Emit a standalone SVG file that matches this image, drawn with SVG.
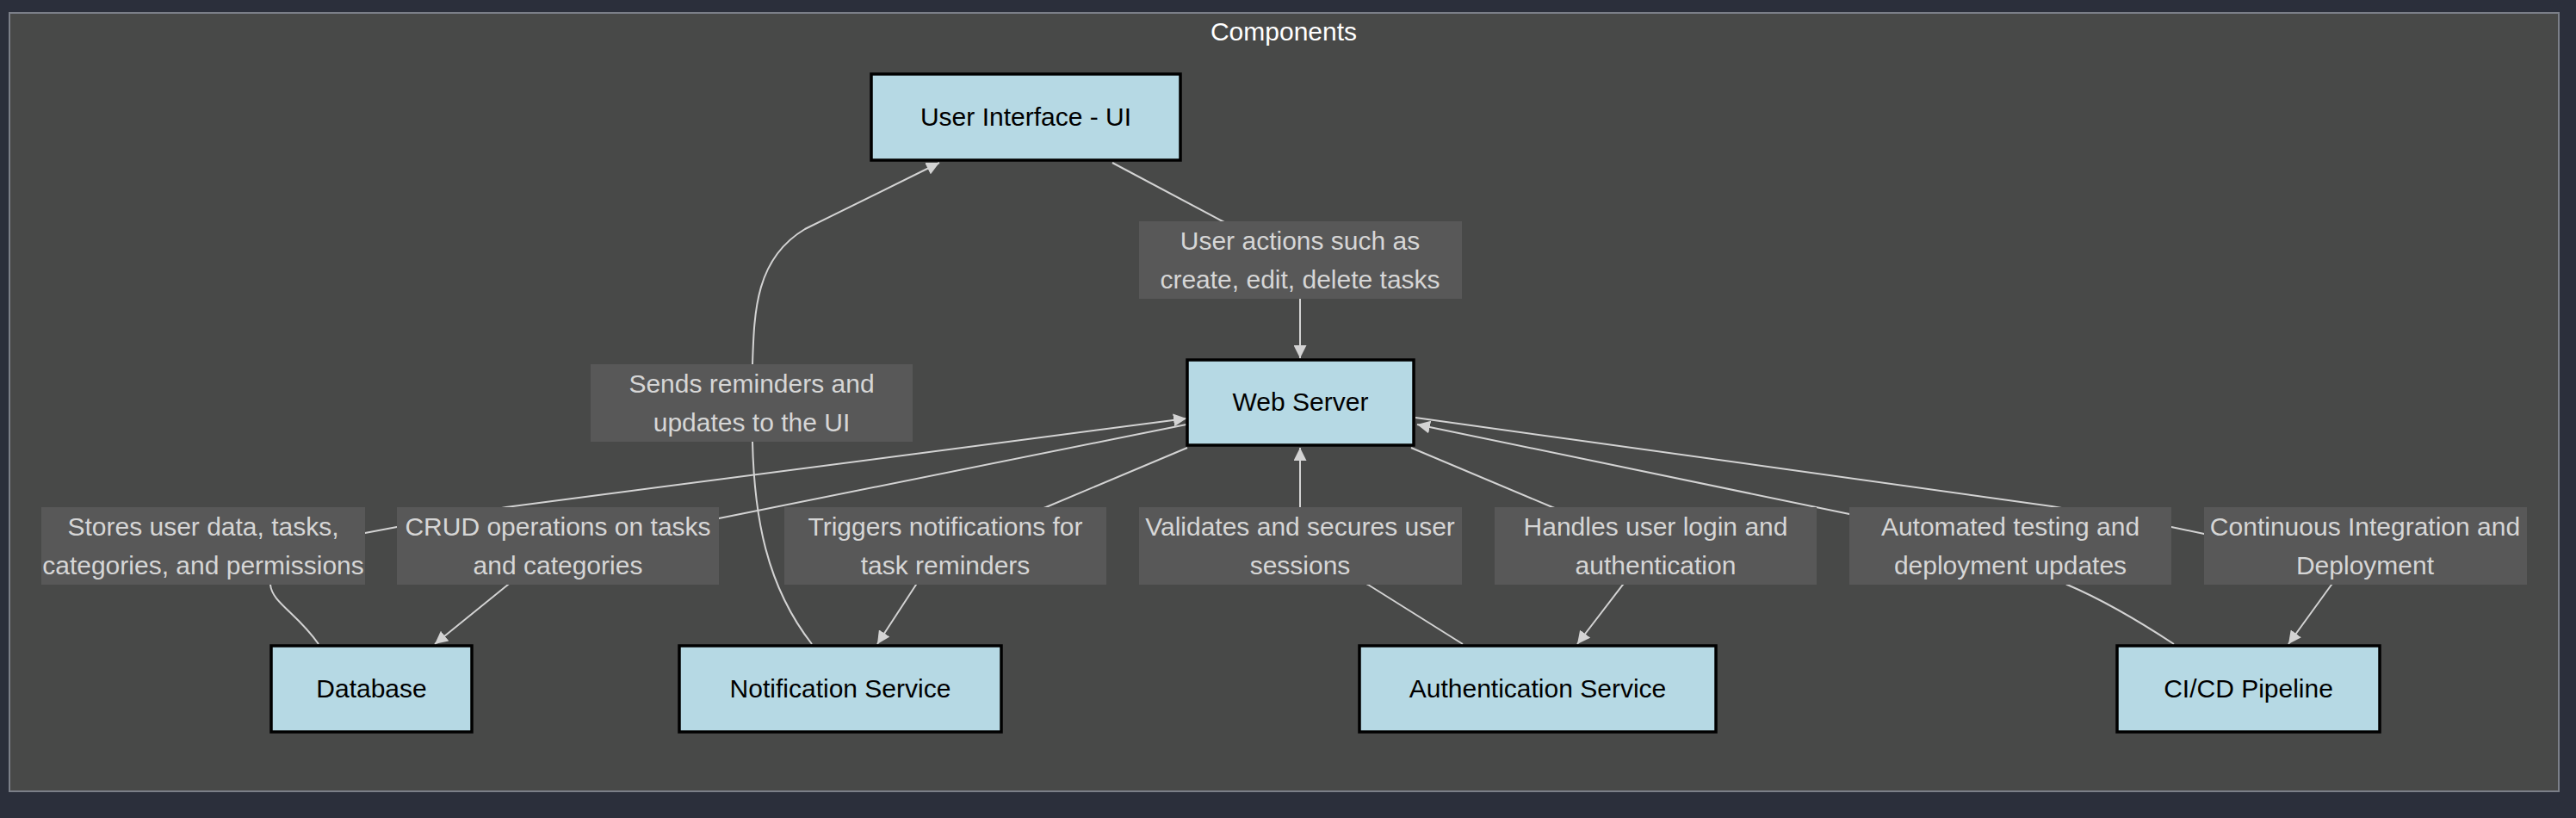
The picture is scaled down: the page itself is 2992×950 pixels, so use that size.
<svg xmlns="http://www.w3.org/2000/svg" width="2992" height="950" viewBox="0 0 2992 950">
<style>
.bg{fill:#2b2f3b}
.cluster{fill:#484948;stroke:#7b7f88;stroke-width:2}
.title{fill:#ffffff;font-family:"Liberation Sans",Arial,sans-serif;font-size:30px;text-anchor:middle}
.node rect{fill:#b6d9e4;stroke:#000000;stroke-width:3.5}
.node text{fill:#000000;font-family:"Liberation Sans",Arial,sans-serif;font-size:30px;text-anchor:middle}
.edge{fill:none;stroke:#d3d3d3;stroke-width:2}
.lbl rect{fill:#585858}
.lbl text{fill:#d6d6d6;font-family:"Liberation Sans",Arial,sans-serif;font-size:30px;text-anchor:middle}
</style>
<defs>
<marker id="arrow" viewBox="0 0 10 10" refX="10" refY="5" markerUnits="userSpaceOnUse" markerWidth="15" markerHeight="15" orient="auto">
<path d="M0,0 L10,5 L0,10 z" fill="#d3d3d3"/>
</marker>
</defs>
<rect class="bg" x="0" y="0" width="2992" height="950"/>
<g id="cluster-components">
<rect class="cluster" x="11" y="15" width="2961" height="904"/>
<text class="title" x="1491" y="47">Components</text>
</g>
<g id="connectors">
<path class="edge" d="M1292,189 L1420,257 Q1510,300 1510,347 L1510,416" marker-end="url(#arrow)"/>
<path class="edge" d="M370,748 C345,712 316,700 314,679 L340,630 L424,619 L461,612 L588,589 L1378,486" marker-end="url(#arrow)"/>
<path class="edge" d="M1378,493 L835,602 L648,634 L590,679 L505,748" marker-end="url(#arrow)"/>
<path class="edge" d="M1379,520 L1215,589 L1098,634 L1064,679 L1019,748" marker-end="url(#arrow)"/>
<path class="edge" d="M943,748 C890,680 876,600 874,513 L874,423 C876,360 878,300 935,266 L1091,189" marker-end="url(#arrow)"/>
<path class="edge" d="M1699,748 L1589,679 Q1510,640 1510,589 L1510,520" marker-end="url(#arrow)"/>
<path class="edge" d="M1639,520 L1803,589 L1923,634 L1885,679 L1832,748" marker-end="url(#arrow)"/>
<path class="edge" d="M2525,748 Q2455,702 2401,679 L2335,634 L2148,597 L1646,493" marker-end="url(#arrow)"/>
<path class="edge" d="M1644,485 L2383,588 L2522,612 L2560,620 L2747,634 L2708,679 L2658,748" marker-end="url(#arrow)"/>
</g>
<g id="edge-labels">
<g class="lbl" id="label-user-actions"><rect x="1323" y="257" width="375" height="90"/><text x="1510" y="290">User actions such as</text><text x="1510" y="335">create, edit, delete tasks</text></g>
<g class="lbl" id="label-sends"><rect x="686" y="423" width="374" height="90"/><text x="873" y="456">Sends reminders and</text><text x="873" y="501">updates to the UI</text></g>
<g class="lbl" id="label-stores"><rect x="48" y="589" width="376" height="90"/><text x="236" y="622">Stores user data, tasks,</text><text x="236" y="667">categories, and permissions</text></g>
<g class="lbl" id="label-crud"><rect x="461" y="589" width="374" height="90"/><text x="648" y="622">CRUD operations on tasks</text><text x="648" y="667">and categories</text></g>
<g class="lbl" id="label-triggers"><rect x="911" y="589" width="374" height="90"/><text x="1098" y="622">Triggers notifications for</text><text x="1098" y="667">task reminders</text></g>
<g class="lbl" id="label-validates"><rect x="1323" y="589" width="375" height="90"/><text x="1510" y="622">Validates and secures user</text><text x="1510" y="667">sessions</text></g>
<g class="lbl" id="label-handles"><rect x="1736" y="589" width="374" height="90"/><text x="1923" y="622">Handles user login and</text><text x="1923" y="667">authentication</text></g>
<g class="lbl" id="label-automated"><rect x="2148" y="589" width="374" height="90"/><text x="2335" y="622">Automated testing and</text><text x="2335" y="667">deployment updates</text></g>
<g class="lbl" id="label-continuous"><rect x="2560" y="589" width="375" height="90"/><text x="2747" y="622">Continuous Integration and</text><text x="2747" y="667">Deployment</text></g>
</g>
<g class="node" id="node-ui"><rect x="1012" y="86" width="359" height="100"/><text x="1191.5" y="146">User Interface - UI</text></g>
<g class="node" id="node-webserver"><rect x="1379" y="418" width="263" height="99"/><text x="1510.5" y="477">Web Server</text></g>
<g class="node" id="node-database"><rect x="315" y="750" width="233" height="100"/><text x="431.5" y="810">Database</text></g>
<g class="node" id="node-notification"><rect x="789" y="750" width="374" height="100"/><text x="976" y="810">Notification Service</text></g>
<g class="node" id="node-auth"><rect x="1579" y="750" width="414" height="100"/><text x="1786" y="810">Authentication Service</text></g>
<g class="node" id="node-cicd"><rect x="2459" y="750" width="305" height="100"/><text x="2611.5" y="810">CI/CD Pipeline</text></g>
</svg>
